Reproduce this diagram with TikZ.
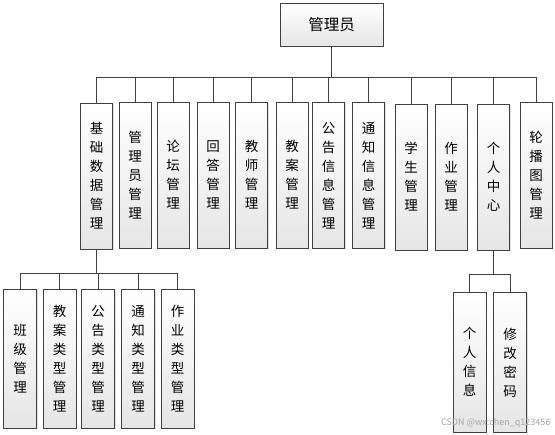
\documentclass[tikz,border=0pt]{standalone}
\usepackage{fontspec}
\newfontfamily\cjk{Noto Sans CJK SC}
\usetikzlibrary{shadows}

\tikzset{
  admtop/.style={draw=black!75, line width=0.8pt, align=center, minimum width=103pt, minimum height=43pt, font=\cjk\fontsize{15.5}{18}\selectfont, top color=white, bottom color=black!10, drop shadow={shadow xshift=1pt, shadow yshift=-1pt, opacity=0.25}},
  admbox/.style={draw=black!75, line width=0.8pt, align=center, inner sep=0pt, minimum width=32pt, minimum height=146pt, font=\cjk\fontsize{13.5}{19}\selectfont, top color=white, bottom color=black!10, drop shadow={shadow xshift=1pt, shadow yshift=-1pt, opacity=0.25}},
  admsub/.style={admbox, minimum width=33pt, minimum height=139pt},
  admline/.style={draw=black!75, line width=0.8pt}
}

\begin{document}
\begin{tikzpicture}[x=1pt,y=-1pt]
    \useasboundingbox (0,0) rectangle (555,435);

    \node[admtop] (admin) at (331.5,24.5) {管理员};

    \node[admbox] (base)   at (96.5,176) {基\\础\\数\\据\\管\\理};
    \node[admbox] (mgr)    at (135,175)  {管\\理\\员\\管\\理};
    \node[admbox] (forum)  at (173,175)  {论\\坛\\管\\理};
    \node[admbox] (answer) at (213,175)  {回\\答\\管\\理};
    \node[admbox] (teach)  at (251.5,175) {教\\师\\管\\理};
    \node[admbox] (plan)   at (292,175)  {教\\案\\管\\理};
    \node[admbox] (notice) at (328.5,175.5) {公\\告\\信\\息\\管\\理};
    \node[admbox] (inform) at (368.5,175.5) {通\\知\\信\\息\\管\\理};
    \node[admbox] (stud)   at (411,177)  {学\\生\\管\\理};
    \node[admbox] (work)   at (451,177)  {作\\业\\管\\理};
    \node[admbox] (center) at (493.5,177) {个\\人\\中\\心};
    \node[admbox] (banner) at (536,175)  {轮\\播\\图\\管\\理};

    \node[admsub] (cls)    at (20,359)  {班\\级\\管\\理};
    \node[admsub] (plantp) at (59.5,359) {教\\案\\类\\型\\管\\理};
    \node[admsub] (nottp)  at (98,359)  {公\\告\\类\\型\\管\\理};
    \node[admsub] (inftp)  at (138,359) {通\\知\\类\\型\\管\\理};
    \node[admsub] (worktp) at (177.5,359) {作\\业\\类\\型\\管\\理};

    \node[admsub, minimum height=140pt] (info) at (469.5,362) {个\\人\\信\\息};
    \node[admsub, minimum height=140pt] (pwd)  at (510,362.5) {修\\改\\密\\码};

    % busses
    \coordinate (bus) at (331.5,77);
    \coordinate (busa) at (96.5,273);
    \coordinate (busb) at (493.5,274);

    \draw[admline] (admin.south) -- (bus);
    \foreach \n in {base,mgr,forum,answer,teach,plan,notice,inform,stud,work,center,banner}
        \draw[admline] (bus) -| (\n.north);

    \draw[admline] (base.south) -- (busa);
    \foreach \n in {cls,plantp,nottp,inftp,worktp}
        \draw[admline] (busa) -| (\n.north);

    \draw[admline] (center.south) -- (busb);
    \foreach \n in {info,pwd}
        \draw[admline] (busb) -| (\n.north);

    \node[anchor=east, text=black!35, font=\cjk\fontsize{9}{10}\selectfont] (mark) at (554,423) {CSDN @wx:chen\_q123456};
\end{tikzpicture}
\end{document}
